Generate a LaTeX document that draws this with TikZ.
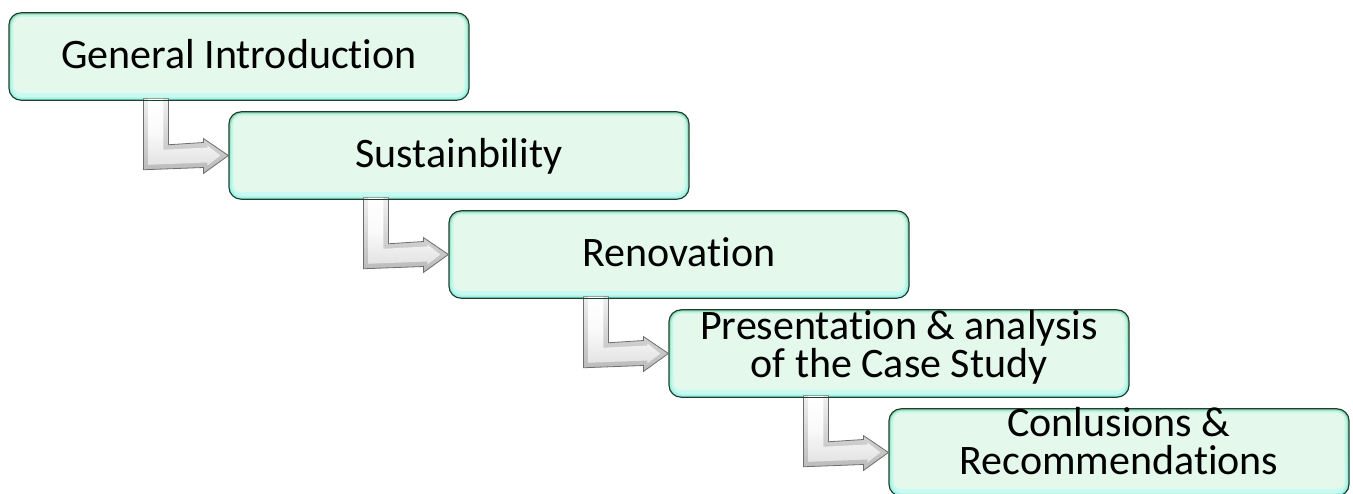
\documentclass[tikz,border=0pt]{standalone}
\usepackage{fontspec}
\setmainfont{Carlito}[Ligatures={NoCommon}]
\usetikzlibrary{calc}

\definecolor{boxline}{HTML}{1F3F2E}
\definecolor{mint}{HTML}{E4F8EC}
\definecolor{glowtop}{HTML}{96DDB8}
\definecolor{glowbot}{HTML}{9CF6EC}
\definecolor{glowmid}{HTML}{C4F2DC}
\definecolor{glowlow}{HTML}{C6FBF3}
\definecolor{arrowline}{HTML}{6E6E6E}

\tikzset{
  stagebox/.style={rectangle, rounded corners=9pt, minimum width=345pt,
    minimum height=65.5pt, inner sep=0pt, draw=boxline, line width=0.9pt,
    top color=glowtop, bottom color=glowbot,
    path picture={
      \fill[glowmid, rounded corners=8pt]
        ($(path picture bounding box.south west)+(1.6pt,1.8pt)$) rectangle
        ($(path picture bounding box.north east)+(-1.6pt,-1.4pt)$);
      \fill[glowlow, rounded corners=7pt]
        ($(path picture bounding box.south west)+(2.6pt,2.4pt)$) rectangle
        ($(path picture bounding box.north east)+(-2.6pt,-2.4pt)$);
      \fill[mint, rounded corners=6pt]
        ($(path picture bounding box.south west)+(3.4pt,5.2pt)$) rectangle
        ($(path picture bounding box.north east)+(-3.4pt,-3.0pt)$);
    }},
  stagetext/.style={font=\fontsize{31.5}{28.5}\selectfont, align=center,
    text=black, inner sep=0pt},
  arrowrim/.style={draw=arrowline, line width=0.6pt, line join=miter,
    top color=gray!12, bottom color=gray!55},
  arrowface/.style={top color=white, bottom color=gray!22, middle color=gray!4}
}

% bent arrow leaving the bottom of box #1 and pointing at the left side of box #2
\newcommand\bentconnector[2]{%
  \path[arrowrim]
    ($(#1.south west)+(135,-2)$) -- ($(#1.south west)+(160,-2)$)
    -- ($(#1.south west)+(160,44)$) -- ($(#2.west)+(-25,-13)$)
    -- ($(#2.west)+(-25,-17)$) -- (#2.west)
    -- ($(#2.west)+(-25,18)$) -- ($(#2.west)+(-25,12)$)
    -- ($(#1.south west)+(135,69)$) -- cycle;
  \path[arrowface]
    ($(#1.south west)+(140,-2)$) -- ($(#1.south west)+(155,-2)$)
    -- ($(#1.south west)+(155,49)$) -- ($(#2.west)+(-21,-8)$)
    -- ($(#2.west)+(-21,-10)$) -- ($(#2.west)+(-8,0)$)
    -- ($(#2.west)+(-21,10)$) -- ($(#2.west)+(-21,7)$)
    -- ($(#1.south west)+(140,64)$) -- cycle;}

\begin{document}
\begin{tikzpicture}[x=0.75pt,y=-0.75pt]
\useasboundingbox (0,0) rectangle (1353,493);

% stage boxes
\node[stagebox] (b1) at (239,56.5) {};
\node[stagebox] (b2) at (459,155.5) {};
\node[stagebox] (b3) at (679,254.5) {};
\node[stagebox] (b4) at (899,353.5) {};
\node[stagebox] (b5) at (1119,452.5) {};

% connectors between consecutive stages
\bentconnector{b1}{b2}
\bentconnector{b2}{b3}
\bentconnector{b3}{b4}
\bentconnector{b4}{b5}

% border segment over the arrow roots
\foreach \b in {b1,b2,b3,b4}{
  \draw[boxline, line width=0.9pt] ($(\b.south west)+(120,0)$) -- ($(\b.south west)+(175,0)$);
}

% labels
\node[stagetext, anchor=base] (t1) at ($(b1.center)+(0,11.5)$) {General Introduction};
\node[stagetext, anchor=base] (t2) at ($(b2.center)+(0,11.5)$) {Sustainbility};
\node[stagetext, anchor=base] (t3) at ($(b3.center)+(0,11.5)$) {Renovation};
\node[stagetext] (t4) at ($(b4.center)+(0,-6.5)$) {Presentation \& analysis\\of the Case Study};
\node[stagetext] (t5) at ($(b5.center)+(0,-11.5)$) {Conlusions \&\\Recommendations};
\end{tikzpicture}
\end{document}
